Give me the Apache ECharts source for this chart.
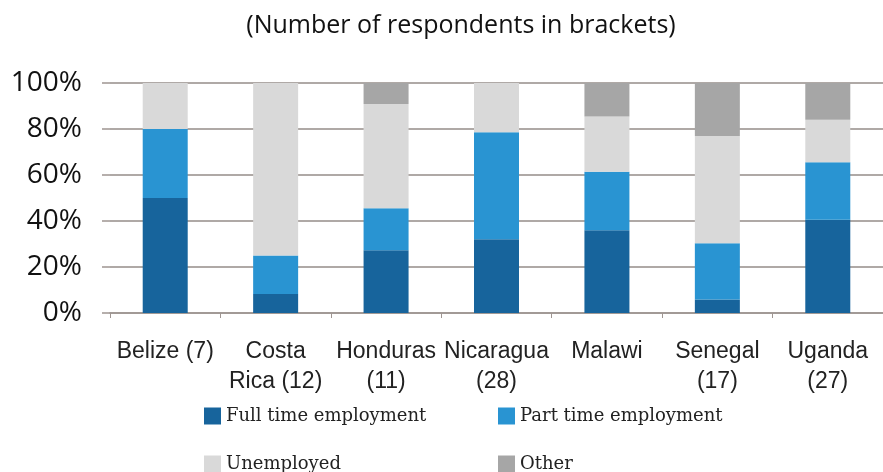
<!DOCTYPE html>
<html>
<head>
<meta charset="utf-8">
<script src="https://cdn.jsdelivr.net/npm/echarts@6/dist/echarts.min.js"></script>
<style>
  html, body { margin: 0; padding: 0; background: #fff; }
  #chart { width: 883px; height: 472px; }
</style>
</head>
<body>
<div id="chart"></div>
<script>
// countries, respondents in brackets
var countries = ['Belize (7)', 'Costa\nRica (12)', 'Honduras\n(11)', 'Nicaragua\n(28)', 'Malawi', 'Senegal\n(17)', 'Uganda\n(27)'];

// shares in percent
var fullTime   = [50, 8.3, 27.3, 32.1, 36, 5.9, 40.5];
var partTime   = [30, 16.7, 18.2, 46.5, 25.4, 24.4, 25];
var unemployed = [20, 75, 45.4, 21.4, 24, 46.7, 18.5];
var other      = [0, 0, 9.1, 0, 14.6, 23, 16];

var yTicks = [0, 20, 40, 60, 80, 100];

var colors = ['#17649c', '#2994d2', '#d9d9d9', '#a6a6a6'];
var names = ['Full time employment', 'Part time employment', 'Unemployed', 'Other'];

var chart = echarts.init(document.getElementById('chart'));

function legendAt(name, left, top) {
    return {
        data: [name],
        left: left,
        top: top,
        padding: 0,
        orient: 'horizontal',
        itemWidth: 17,
        itemHeight: 17,
        icon: 'rect',
        selectedMode: false,
        textStyle: {
            fontFamily: 'DejaVu Serif',
            fontSize: 18,
            color: '#222'
        }
    };
}

function barSeries(i, data) {
    return {
        name: names[i],
        type: 'bar',
        stack: 'all',
        barWidth: 45,
        itemStyle: { color: colors[i] },
        data: data
    };
}

var option = {
    animation: false,
    color: colors,
    title: {
        text: '(Number of respondents in brackets)',
        left: 456,
        textAlign: 'center',
        top: 8,
        textStyle: {
            fontFamily: 'Open Sans',
            fontSize: 25,
            fontWeight: 'normal',
            color: '#111'
        }
    },
    legend: [
        legendAt(names[0], 204, 407),
        legendAt(names[1], 498, 407),
        legendAt(names[2], 204, 455),
        legendAt(names[3], 498, 455)
    ],
    grid: {
        left: 110,
        right: 0,
        top: 83,
        bottom: 159,
        containLabel: false
    },
    xAxis: {
        type: 'category',
        data: countries,
        axisLine: { lineStyle: { color: '#9e9591', width: 1.5 } },
        axisTick: { show: true, length: 5, lineStyle: { color: '#9e9591' } },
        axisLabel: {
            interval: 0,
            margin: 24,
            fontFamily: 'Liberation Sans',
            fontSize: 23,
            lineHeight: 30,
            color: '#222'
        }
    },
    yAxis: {
        type: 'value',
        min: yTicks[0],
        max: yTicks[yTicks.length - 1],
        interval: 20,
        axisLine: { show: false },
        axisTick: { show: true, length: 8, lineStyle: { color: '#9e9591', width: 1.5 } },
        splitLine: { lineStyle: { color: '#958c88', width: 1.5 } },
        axisLabel: {
            margin: 28,
            fontFamily: 'Open Sans',
            fontSize: 28,
            fontWeight: 500,
            color: '#111',
            formatter: '{value}%'
        }
    },
    series: [
        barSeries(0, fullTime),
        barSeries(1, partTime),
        barSeries(2, unemployed),
        barSeries(3, other)
    ]
};

chart.setOption(option);
</script>
</body>
</html>
